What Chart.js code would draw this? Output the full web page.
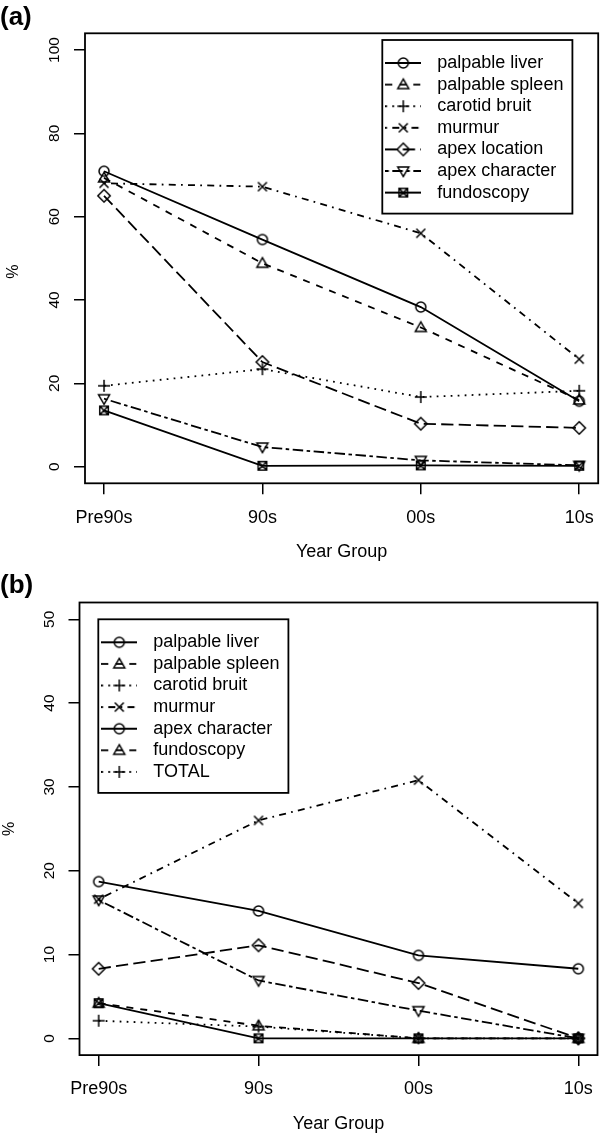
<!DOCTYPE html>
<html>
<head>
<meta charset="utf-8">
<script src="https://cdn.jsdelivr.net/npm/chart.js@4.4.1/dist/chart.umd.min.js"></script>
<style>
  body { margin: 0; background: #fff; }
  canvas { display: block; }
</style>
</head>
<body>
<canvas id="chartA" width="606" height="570"></canvas>
<canvas id="chartB" width="606" height="569"></canvas>
<script>
const yearGroups = ["Pre90s", "90s", "00s", "10s"];

// panel (a)
const seriesNamesA = ["palpable liver", "palpable spleen", "carotid bruit", "murmur",
  "apex location", "apex character", "fundoscopy"];
const palpableLiverA = [70.9, 54.5, 38.3, 15.7];
const palpableSpleenA = [69.3, 48.8, 33.4, 16.0];
const carotidBruitA = [19.4, 23.4, 16.7, 18.2];
const murmurA = [68.0, 67.2, 56.0, 25.8];
const apexLocationA = [65.0, 25.1, 10.3, 9.3];
const apexCharacterA = [16.3, 4.7, 1.5, 0.3];
const fundoscopyA = [13.5, 0.2, 0.3, 0.2];
const yTicksA = [0, 20, 40, 60, 80, 100];

// panel (b)
const seriesNamesB = ["palpable liver", "palpable spleen", "carotid bruit", "murmur",
  "apex character", "fundoscopy", "TOTAL"];
const palpableLiverB = [18.7, 15.2, 9.9, 8.3];
const palpableSpleenB = [4.2, 1.5, 0, 0];
const carotidBruitB = [2.1, 1.4, 0, 0];
const murmurB = [16.6, 26.0, 30.8, 16.1];
const apexCharacterB = [8.3, 11.1, 6.6, 0];
const fundoscopyB = [16.5, 6.9, 3.3, 0];
const totalB = [4.2, 0, 0, 0];
const yTicksB = [0, 10, 20, 30, 40, 50];

// R-like line types and plotting symbols
const symbols = ["circle", "triangle", "plus", "cross", "diamond", "downTriangle", "boxCross"];
const dashes = [[], [7, 7], [1.75, 5.25], [1.75, 5.25, 7, 5.25], [12.25, 5.25], [3.5, 3.5, 10.5, 3.5], []];
// the (b) legend recycles the first styles
const legendSymbolsB = ["circle", "triangle", "plus", "cross", "circle", "triangle", "plus"];
const legendDashesB = [dashes[0], dashes[1], dashes[2], dashes[3], dashes[0], dashes[1], dashes[2]];

Chart.defaults.font.family = "'Liberation Sans', Arial, Helvetica, sans-serif";
Chart.defaults.color = "#000";

function makeCanvas(w, h) {
  const c = document.createElement("canvas");
  c.width = w;
  c.height = h;
  return c;
}

function drawSymbol(g, kind, cx, cy) {
  g.save();
  g.setLineDash([]);
  g.strokeStyle = "#000";
  g.lineWidth = 1.5;
  g.beginPath();
  if (kind === "circle") {
    g.arc(cx, cy, 5, 0, Math.PI * 2);
  } else if (kind === "triangle") {
    g.moveTo(cx, cy - 5.6); g.lineTo(cx + 5.5, cy + 3.9); g.lineTo(cx - 5.5, cy + 3.9); g.closePath();
  } else if (kind === "downTriangle") {
    g.moveTo(cx, cy + 5.6); g.lineTo(cx + 5.5, cy - 3.9); g.lineTo(cx - 5.5, cy - 3.9); g.closePath();
  } else if (kind === "plus") {
    g.moveTo(cx - 6, cy); g.lineTo(cx + 6, cy); g.moveTo(cx, cy - 6); g.lineTo(cx, cy + 6);
  } else if (kind === "cross") {
    const d = 4.5;
    g.moveTo(cx - d, cy - d); g.lineTo(cx + d, cy + d); g.moveTo(cx + d, cy - d); g.lineTo(cx - d, cy + d);
  } else if (kind === "diamond") {
    const d = 6.2;
    g.moveTo(cx, cy - d); g.lineTo(cx + d, cy); g.lineTo(cx, cy + d); g.lineTo(cx - d, cy); g.closePath();
  } else if (kind === "boxCross") {
    const d = 4.3;
    g.rect(cx - d, cy - d, 2 * d, 2 * d);
    g.moveTo(cx - d, cy - d); g.lineTo(cx + d, cy + d); g.moveTo(cx + d, cy - d); g.lineTo(cx - d, cy + d);
  }
  g.stroke();
  g.restore();
}

function makeMarker(kind) {
  const c = makeCanvas(18, 18);
  drawSymbol(c.getContext("2d"), kind, 9, 9);
  return c;
}

function makeLegendIcon(kind, dash) {
  const c = makeCanvas(36, 18);
  const g = c.getContext("2d");
  g.strokeStyle = "#000";
  g.lineWidth = 1.8;
  g.setLineDash(dash);
  g.beginPath();
  g.moveTo(0, 9);
  g.lineTo(36, 9);
  g.stroke();
  drawSymbol(g, kind, 18, 9);
  return c;
}

const markers = symbols.map(makeMarker);

function lineDataset(label, values, i) {
  return {
    label,
    data: values.map((v, k) => ({ x: k + 1, y: v })),
    borderColor: "#000",
    borderWidth: 1.8,
    borderDash: dashes[i],
    pointStyle: markers[i],
    pointRadius: 6,
    tension: 0,
    fill: false,
  };
}

function legendItems(names, kinds, dashList) {
  return names.map((text, i) => ({
    text,
    pointStyle: makeLegendIcon(kinds[i], dashList[i]),
    fontColor: "#000",
    fillStyle: "#000",
    strokeStyle: "#000",
    lineWidth: 0,
    hidden: false,
    datasetIndex: i,
  }));
}

// plot box plus R style legend frame
const framePlugin = {
  id: "frame",
  beforeDraw(chart, args, opts) {
    const lg = chart.legend;
    const pad = lg.options.labels.padding;
    lg.left = opts.legendLeft - 4 - pad;
    lg.top = opts.legendTop + 23 - 9 - pad;
    lg.right = lg.left + lg.width;
    lg.bottom = chart.chartArea.bottom + 100;
  },
  afterDraw(chart, args, opts) {
    const { ctx, chartArea: a } = chart;
    const lg = chart.legend;
    const pad = lg.options.labels.padding;
    ctx.save();
    ctx.strokeStyle = "#000";
    ctx.lineWidth = 1.8;
    ctx.strokeRect(a.left, a.top, a.right - a.left, a.bottom - a.top);
    const w = lg.columnSizes[0].width + 9 - 4;
    const h = 23 + (lg.legendItems.length - 1) * (18 + pad) + 21;
    ctx.strokeRect(opts.legendLeft, opts.legendTop, w, h);
    ctx.restore();
  },
};

function makeChart(id, cfg) {
  const tickGrid = { drawOnChartArea: false, drawTicks: true, tickLength: 11, color: "#000", lineWidth: 1.5 };
  return new Chart(document.getElementById(id), {
    type: "line",
    data: { datasets: cfg.datasets },
    plugins: [framePlugin],
    options: {
      responsive: false,
      animation: false,
      devicePixelRatio: 1,
      events: [],
      layout: { padding: { left: 0, right: cfg.padRight, top: 0, bottom: 0 } },
      scales: {
        x: {
          type: "linear",
          min: 0.88,
          max: 4.12,
          afterBuildTicks: (s) => { s.ticks = yearGroups.map((_, i) => ({ value: i + 1 })); },
          afterFit: (s) => { s.height = cfg.xHeight; s.paddingLeft = 0; s.paddingRight = 0; },
          grid: tickGrid,
          border: { display: false },
          ticks: {
            callback: (v) => yearGroups[v - 1],
            font: { size: 18 },
            color: "#000",
            padding: 12.6,
            maxRotation: 0,
            autoSkip: false,
          },
          title: {
            display: true,
            text: "Year Group",
            font: { size: 18 },
            color: "#000",
            padding: { top: 0, bottom: cfg.xTitlePad },
          },
        },
        y: {
          min: cfg.yMin,
          max: cfg.yMax,
          afterBuildTicks: (s) => { s.ticks = cfg.yTicks.map((v) => ({ value: v })); },
          afterFit: (s) => { s.width = cfg.yWidth; s.paddingTop = 0; s.paddingBottom = 0; },
          grid: tickGrid,
          border: { display: false },
          ticks: {
            font: { size: 15.5 },
            color: "#000",
            minRotation: 90,
            maxRotation: 90,
            crossAlign: "center",
            padding: cfg.yTickPad,
          },
          title: {
            display: true,
            text: cfg.yTitle,
            font: { size: 16 },
            color: "#000",
            padding: { top: cfg.yTitlePad, bottom: 0 },
          },
        },
      },
      plugins: {
        title: {
          display: true,
          text: cfg.panel,
          align: "start",
          color: "#000",
          font: { size: 26, weight: "bold" },
          padding: cfg.titlePad,
        },
        legend: {
          position: "chartArea",
          align: "start",
          labels: {
            usePointStyle: true,
            pointStyleWidth: 50,
            font: { size: 18 },
            color: "#000",
            padding: 3.6,
            generateLabels: () => cfg.legend,
          },
        },
        tooltip: { enabled: false },
        frame: { legendLeft: cfg.legendLeft, legendTop: cfg.legendTop },
      },
    },
  });
}

makeChart("chartA", {
  panel: "(a)",
  datasets: [palpableLiverA, palpableSpleenA, carotidBruitA, murmurA, apexLocationA, apexCharacterA, fundoscopyA]
    .map((vals, i) => lineDataset(seriesNamesA[i], vals, i)),
  legend: legendItems(seriesNamesA, symbols, dashes),
  yMin: -4, yMax: 104, yTicks: yTicksA,
  yWidth: 85, yTickPad: 6.2, yTitle: "%\u00a0\u00a0\u00a0\u00a0\u00a0\u00a0", yTitlePad: 4.4,
  xHeight: 86.7, xTitlePad: 7.2, padRight: 6,
  titlePad: { top: 2, bottom: 0.1 },
  legendLeft: 382.3, legendTop: 40,
});

makeChart("chartB", {
  panel: "(b)",
  datasets: [palpableLiverB, palpableSpleenB, carotidBruitB, murmurB, apexCharacterB, fundoscopyB, totalB]
    .map((vals, i) => lineDataset(seriesNamesB[i], vals, i)),
  legend: legendItems(seriesNamesB, legendSymbolsB, legendDashesB),
  yMin: -2, yMax: 52, yTicks: yTicksB,
  yWidth: 79.5, yTickPad: 10.4, yTitle: "%", yTitlePad: 0,
  xHeight: 83.9, xTitlePad: 4.5, padRight: 8.5,
  titlePad: { top: 0, bottom: 1.3 },
  legendLeft: 98.3, legendTop: 49.3,
});
</script>
</body>
</html>
